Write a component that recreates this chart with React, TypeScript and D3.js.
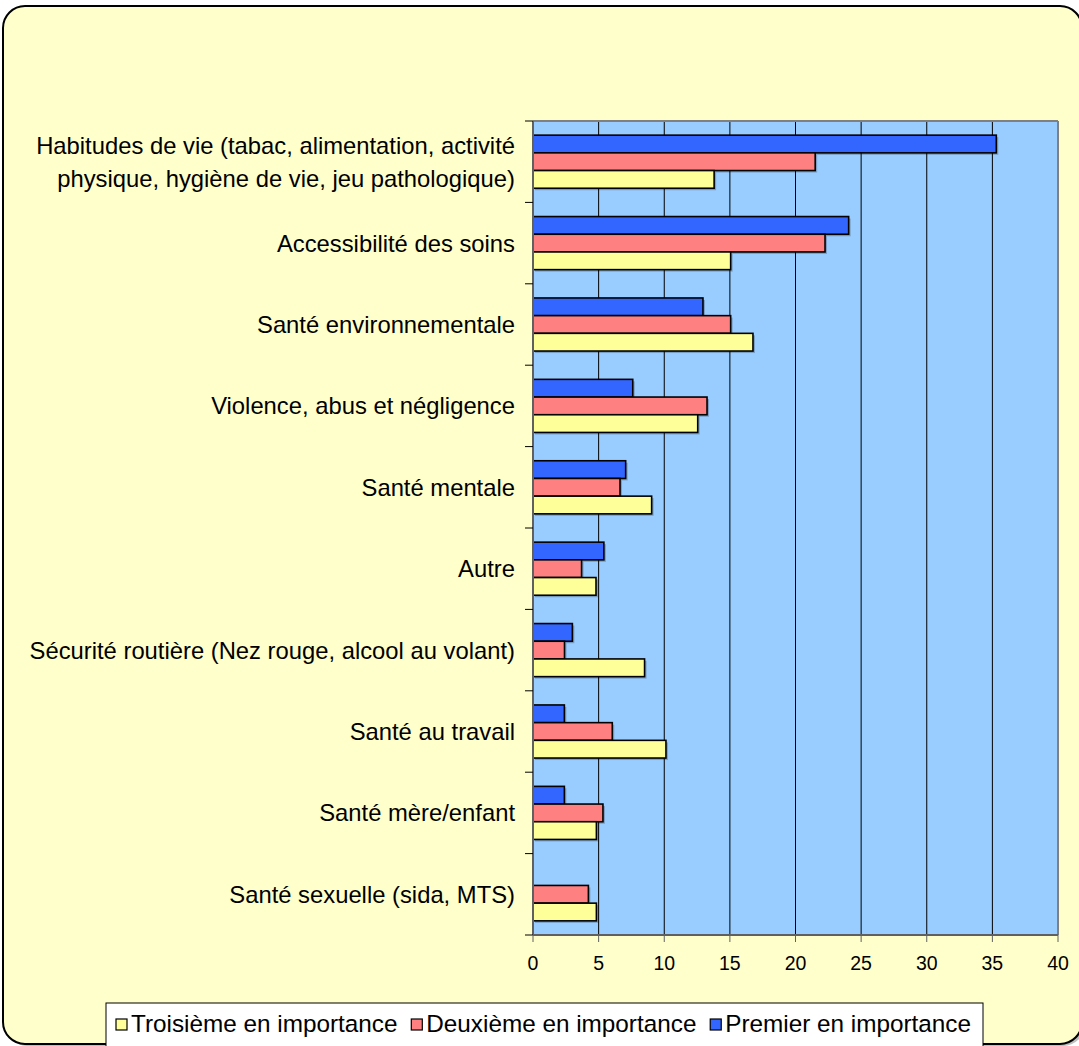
import React from "react";
import * as d3 from "d3";

const categories = [
  "Habitudes de vie (tabac, alimentation, activité|physique, hygiène de vie, jeu pathologique)",
  "Accessibilité des soins",
  "Santé environnementale",
  "Violence, abus et négligence",
  "Santé mentale",
  "Autre",
  "Sécurité routière (Nez rouge, alcool au volant)",
  "Santé au travail",
  "Santé mère/enfant",
  "Santé sexuelle (sida, MTS)",
];

const premier = [35.3, 24.05, 12.95, 7.6, 7.06, 5.4, 3.0, 2.39, 2.39, 0];
const deuxieme = [21.5, 22.25, 15.06, 13.26, 6.63, 3.7, 2.4, 6.04, 5.33, 4.22];
const troisieme = [13.8, 15.06, 16.76, 12.55, 9.04, 4.8, 8.5, 10.13, 4.83, 4.83];

const seriesNames = ["Premier en importance", "Deuxième en importance", "Troisième en importance"];
const seriesColors = ["#3366FF", "#FF8080", "#FFFF99"];
const legendOrder = [2, 1, 0];
const xTicks = [0, 5, 10, 15, 20, 25, 30, 35, 40];

const FONT = "'Liberation Sans', Arial, sans-serif";

function measure(text: string, size: number): number {
  const c = document.createElement("canvas").getContext("2d");
  if (!c) return text.length * size * 0.5;
  c.font = `${size}px 'Liberation Sans', Arial, sans-serif`;
  return c.measureText(text).width;
}

export default function App() {
  const W = 1079, H = 1046;
  const left = 533, right = 1058, top = 121, bottom = 935;
  const x = d3.scaleLinear().domain([0, 40]).range([left, right]);
  const y = d3.scaleBand<number>().domain(d3.range(categories.length)).range([top, bottom]).paddingInner(0).paddingOuter(0);
  const sub = d3.scaleBand<number>().domain([0, 1, 2]).range([0, y.bandwidth()]).paddingInner(0).paddingOuter(0.8);
  const values = [premier, deuxieme, troisieme];
  const boundaries = d3.range(categories.length + 1).map((i) => top + i * y.step());

  const legFont = 24.3;
  const mk = 11;
  const widths = legendOrder.map((s) => measure(seriesNames[s], legFont));
  const itemW = widths.map((w) => mk + 4 + w);
  const legStart = 116, legEnd = 971;
  const gap = (legEnd - legStart - d3.sum(itemW)) / 2;
  const legendX: number[] = [];
  let cur = legStart;
  itemW.forEach((w) => {
    legendX.push(cur);
    cur += w + gap;
  });

  const catFont = 23.8;

  return (
    <svg width={W} height={H} style={{ position: "absolute", left: 0, top: 0 }} fontFamily={FONT}>
      <rect x={0} y={0} width={W} height={H} fill="#ffffff" />
      <rect x={5} y={8} width={1080} height={1038} rx={22} fill="#808080" opacity={0.5} />
      <rect x={3} y={6} width={1079} height={1038} rx={22} fill="#FFFFCC" stroke="#000" strokeWidth={2} />

      {/* plot area */}
      <rect x={left} y={top} width={right - left} height={bottom - top} fill="#99CCFF" />
      {xTicks.slice(1, -1).map((t) => (
        <line key={t} x1={x(t)} x2={x(t)} y1={top} y2={bottom} stroke="#000" strokeWidth={1} />
      ))}
      <line x1={left} x2={right} y1={top} y2={top} stroke="#808080" strokeWidth={2} />
      <line x1={right} x2={right} y1={top} y2={bottom} stroke="#808080" strokeWidth={2} />

      {/* bars */}
      {categories.map((c, i) =>
        values.map((vals, s) => {
          const v = vals[i];
          if (v <= 0) return null;
          const by = (y(i) as number) + (sub(s) as number);
          const bw = x(v) - x(0);
          const bh = sub.bandwidth();
          return (
            <g key={`${i}-${s}`}>
              <rect x={x(0) + 2} y={by + 2} width={bw} height={bh} fill="#000" opacity={0.22} />
              <rect x={x(0)} y={by} width={bw} height={bh} fill={seriesColors[s]} stroke="#000" strokeWidth={1.6} />
            </g>
          );
        })
      )}

      {/* axes */}
      <line x1={left} x2={left} y1={top} y2={bottom} stroke="#606060" strokeWidth={2} />
      <line x1={left} x2={right} y1={bottom} y2={bottom} stroke="#606060" strokeWidth={2} />
      {boundaries.map((b, i) => (
        <line key={i} x1={left - 8} x2={left} y1={b} y2={b} stroke="#000" strokeWidth={1} />
      ))}
      {xTicks.map((t) => (
        <g key={t}>
          <line x1={x(t)} x2={x(t)} y1={bottom} y2={bottom + 7} stroke="#606060" strokeWidth={1} />
          <text x={x(t)} y={970} textAnchor="middle" fontSize={19.5} fill="#000">
            {t}
          </text>
        </g>
      ))}

      {/* category labels */}
      {categories.map((c, i) => {
        const lines = c.split("|");
        const cy = (y(i) as number) + y.bandwidth() / 2;
        const lh = 33;
        return (
          <text key={i} x={515} textAnchor="end" fontSize={catFont} fill="#000">
            {lines.map((l, k) => (
              <tspan key={k} x={515} y={cy + (k - (lines.length - 1) / 2) * lh + 8.5}>
                {l}
              </tspan>
            ))}
          </text>
        );
      })}

      {/* legend */}
      <rect x={106} y={1003} width={877} height={45} fill="#fff" stroke="#000" strokeWidth={1} />
      {legendOrder.map((s, k) => (
        <g key={s}>
          <rect x={legendX[k]} y={1019} width={mk} height={mk} fill={seriesColors[s]} stroke="#000" strokeWidth={1.2} />
          <text x={legendX[k] + mk + 4} y={1032} fontSize={legFont} fill="#000">
            {seriesNames[s]}
          </text>
        </g>
      ))}
    </svg>
  );
}
